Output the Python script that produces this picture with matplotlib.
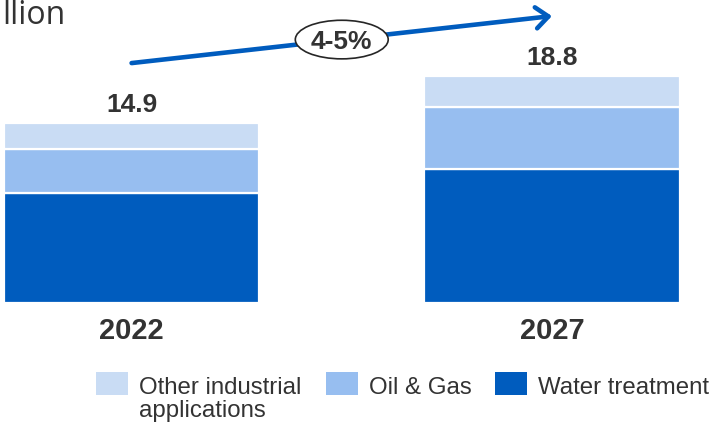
import numpy as np
import matplotlib
matplotlib.use('Agg')
import matplotlib.pyplot as plt
from matplotlib.patches import Ellipse, FancyArrowPatch, Rectangle

plt.rcParams['font.family'] = ['Liberation Sans', 'DejaVu Sans']

########  DATA  ########
years = ['2022', '2027']
water_treatment = [9.1, 11.1]
oil_gas = [3.6, 5.1]
other_industrial = [2.2, 2.6]
segment_labels = ['Water treatment', 'Oil & Gas', 'Other industrial\napplications']
growth_label = '4-5%'
unit_label = 'llion'
########################

BLUES = ['#005CBE', '#97BEF0', '#C9DCF4']
TXT = '#333333'
W, H = 710, 422


def fx(px):
    return px / W


def fy(py):
    return 1 - py / H


fig = plt.figure(figsize=(W / 100, H / 100), dpi=100)
ax = fig.add_axes([0, fy(302.5), 1, 302.5 / H])

# stacked bars, bottom segment first
x = np.arange(len(years))
bottom = np.zeros(len(years))
for vals, col in zip([water_treatment, oil_gas, other_industrial], BLUES):
    ax.bar(x, vals, width=0.607, bottom=bottom, color=col, edgecolor='white', linewidth=1.6)
    bottom += np.array(vals)
totals = bottom

for xi, t in zip(x, totals):
    ax.annotate(f'{t:.1f}', (xi, t), xytext=(0, 8), textcoords='offset points',
                ha='center', va='baseline', fontsize=19, fontweight='bold', color=TXT)

ax.set_xlim(-0.313, 1.376)
ax.set_ylim(0, 25.08)

ax.set_xticks(x)
ax.set_xticklabels(years, fontsize=21, fontweight='bold', color=TXT)
for lbl in ax.get_xticklabels():
    lbl.set_va('baseline')
ax.tick_params(axis='x', length=0, pad=26.3)
ax.set_yticks([])
for s in ax.spines.values():
    s.set_visible(False)

# growth arrow between the two totals
lift = 4.95
y0, y1 = totals[0] + lift, totals[1] + lift
arrow = FancyArrowPatch((x[0], y0), (x[1], y1),
                        arrowstyle='->,head_length=0.45,head_width=0.38',
                        mutation_scale=20, lw=3.3, color=BLUES[0],
                        shrinkA=0, shrinkB=0, capstyle='round', joinstyle='round')
ax.add_patch(arrow)

xm, ym = (x[0] + x[1]) / 2, (y0 + y1) / 2
ax.add_patch(Ellipse((xm, ym), 0.221, 3.2, facecolor='white', edgecolor='#262626', lw=1.2, zorder=4))
ax.annotate(growth_label, (xm, ym), xytext=(0, -7), textcoords='offset points',
            ha='center', va='baseline', fontsize=19, fontweight='bold', color=TXT, zorder=5)

# unit label, top left
fig.text(fx(2), fy(24), unit_label, ha='left', va='baseline', fontsize=23,
         family=['Open Sans', 'DejaVu Sans'], color=TXT)

# legend, one text per line so the first line sits level with the swatch
leg_order = [2, 1, 0]
patch_x = [96, 326, 495]
for px, i in zip(patch_x, leg_order):
    fig.add_artist(Rectangle((fx(px), fy(395)), 32 / W, 23 / H, transform=fig.transFigure,
                             facecolor=BLUES[i], edgecolor='none'))
    for k, line in enumerate(segment_labels[i].split('\n')):
        fig.text(fx(px + 43), fy(393.5 + 23 * k), line, ha='left', va='baseline',
                 fontsize=17.3, color=TXT)

fig.savefig('out.png', dpi=100)
